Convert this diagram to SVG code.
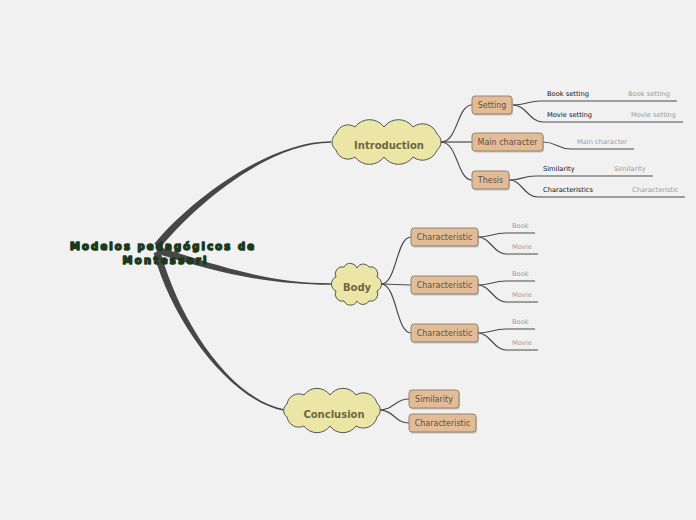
<svg xmlns="http://www.w3.org/2000/svg" width="696" height="520" viewBox="0 0 696 520">
<style>
.bg{fill:#f1f1f1}
.branch{fill:#474747}
.conn{fill:none;stroke:#4a4a4a;stroke-width:1.2}
.cloud{fill:#ebe6a6;stroke:#555;stroke-width:1}
.ctext{font-family:"DejaVu Sans",sans-serif;font-weight:bold;font-size:10px;fill:#6b6840;text-anchor:middle}
.box{fill:#e2bb97;stroke:#97826d;stroke-width:1}
.shadow{fill:#9a9a9a;opacity:0.55}
.btext{font-family:"DejaVu Sans",sans-serif;font-size:8px;fill:#64503e;text-anchor:middle}
.leaf{font-family:"DejaVu Sans",sans-serif;font-size:6.7px;fill:#111}
.note{font-family:"DejaVu Sans",sans-serif;font-size:6.7px;fill:#9a9a9a}
.title{font-family:"DejaVu Sans",sans-serif;font-weight:bold;font-size:10px;fill:#1b3a1e;stroke:#1b3a1e;stroke-width:1.5;stroke-linejoin:round;text-anchor:middle}
</style>
<rect class="bg" x="0" y="0" width="696" height="520"/>

<g id="connectors">
<path class="branch" d="M154.3,243.8 C192.3,197.8 270,141.3 331,141.3 L331,142.7 C270,142.7 197.7,202.2 159.7,248.2 Z"/>
<path class="branch" d="M158,246.7 C221,266.7 270,283.2 331,283.2 L331,284.8 C270,284.8 219,273.3 156,253.3 Z"/>
<path class="branch" d="M160.4,251.1 C178.4,319.1 230.15,399.2 284.15,409.2 L283.85,410.8 C229.85,400.8 171.6,320.9 153.6,252.9 Z"/>
<path class="conn" d="M441,142 C458,142 457,105 472,105"/>
<path class="conn" d="M441,142 L472,142"/>
<path class="conn" d="M441,142 C458,142 457,180 472,180"/>
<path class="conn" d="M381,284 C397,284 396,237 411,237"/>
<path class="conn" d="M381,284 L411,285"/>
<path class="conn" d="M381,284 C397,284 396,333 411,333"/>
<path class="conn" d="M378,410 C395,410 394,399 409,399"/>
<path class="conn" d="M378,410 C395,410 394,423 409,423"/>
<path class="conn" d="M513,105 C527,105 527,101 541,101 L677,101"/>
<path class="conn" d="M513,105 C527,105 529,122 543,122 L683,122"/>
<path class="conn" d="M543,142 C557,142 557,149 571,149 L634,149"/>
<path class="conn" d="M509,180 C522,180 522,176 536,176 L653,176"/>
<path class="conn" d="M509,180 C522,180 524,197 538,197 L685,197"/>
<path class="conn" d="M478,237 C492,237 492,233 506,233 L535,233"/>
<path class="conn" d="M478,237 C490,237 494,254 506,254 L538,254"/>
<path class="conn" d="M478,285 C492,285 492,281 506,281 L535,281"/>
<path class="conn" d="M478,285 C490,285 494,302 506,302 L538,302"/>
<path class="conn" d="M478,333 C492,333 492,329 506,329 L535,329"/>
<path class="conn" d="M478,333 C490,333 494,350 506,350 L538,350"/>
</g>

<g id="root">
<text class="title" x="162" y="249.5" textLength="184" lengthAdjust="spacing">Modelos pedagógicos de</text>
<text class="title" x="164.5" y="263.5" textLength="84" lengthAdjust="spacing">Montessori</text>
</g>

<g id="introduction">
<path class="cloud" d="M336,134 A12.5,12.5 0 0,1 355,127 A18,18 0 0,1 384,127 A18,18 0 0,1 413,127 A15.5,15.5 0 0,1 437,134 A10,10 0 0,1 437,150 A15.5,15.5 0 0,1 413,157 A18,18 0 0,1 384,157 A18,18 0 0,1 355,157 A12.5,12.5 0 0,1 336,150 A10,10 0 0,1 336,134 Z"/>
<text class="ctext" x="389" y="149">Introduction</text>
</g>

<g id="body">
<path class="cloud" d="M336,277 A7,7 0 0,1 344,267 A7.2,7.2 0 0,1 357,268 A7,7 0 0,1 369,267 A7,7 0 0,1 377,277 A7.7,7.7 0 0,1 377,291 A7,7 0 0,1 369,301 A7,7 0 0,1 357,301 A7.2,7.2 0 0,1 344,301 A7,7 0 0,1 336,291 A7.7,7.7 0 0,1 336,277 Z"/>
<text class="ctext" x="357" y="291">Body</text>
</g>

<g id="conclusion">
<path class="cloud" d="M287,404 A12,12 0 0,1 304,395 A16,16 0 0,1 330,395 A16,16 0 0,1 356,395 A14,14 0 0,1 377,403 A9,9 0 0,1 377,417 A14,14 0 0,1 356,426 A16,16 0 0,1 330,426 A16,16 0 0,1 304,426 A12,12 0 0,1 287,417 A8,8 0 0,1 287,404 Z"/>
<text class="ctext" x="334" y="418">Conclusion</text>
</g>

<g id="setting">
<rect class="shadow" x="473" y="97.5" width="40" height="18" rx="3"/>
<rect class="box" x="472" y="96" width="40" height="18" rx="3"/>
<text class="btext" x="492" y="108">Setting</text>
</g>
<g id="main-character">
<rect class="shadow" x="473" y="134.5" width="71" height="18" rx="3"/>
<rect class="box" x="472" y="133" width="71" height="18" rx="3"/>
<text class="btext" x="507.5" y="145">Main character</text>
</g>
<g id="thesis">
<rect class="shadow" x="473" y="172.5" width="37" height="18" rx="3"/>
<rect class="box" x="472" y="171" width="37" height="18" rx="3"/>
<text class="btext" x="490.5" y="183">Thesis</text>
</g>

<g id="body-characteristic-1">
<rect class="shadow" x="412" y="229.5" width="67" height="18" rx="3"/>
<rect class="box" x="411" y="228" width="67" height="18" rx="3"/>
<text class="btext" x="444.5" y="240">Characteristic</text>
</g>
<g id="body-characteristic-2">
<rect class="shadow" x="412" y="277.5" width="67" height="18" rx="3"/>
<rect class="box" x="411" y="276" width="67" height="18" rx="3"/>
<text class="btext" x="444.5" y="288">Characteristic</text>
</g>
<g id="body-characteristic-3">
<rect class="shadow" x="412" y="325.5" width="67" height="18" rx="3"/>
<rect class="box" x="411" y="324" width="67" height="18" rx="3"/>
<text class="btext" x="444.5" y="336">Characteristic</text>
</g>

<g id="conclusion-similarity">
<rect class="shadow" x="410" y="391.5" width="50" height="18" rx="3"/>
<rect class="box" x="409" y="390" width="50" height="18" rx="3"/>
<text class="btext" x="434" y="402">Similarity</text>
</g>
<g id="conclusion-characteristic">
<rect class="shadow" x="410" y="415.5" width="67" height="18" rx="3"/>
<rect class="box" x="409" y="414" width="67" height="18" rx="3"/>
<text class="btext" x="442.5" y="426">Characteristic</text>
</g>

<g id="leaf-book-setting">
<text class="leaf" x="547" y="96">Book setting</text>
<text class="note" x="628" y="96">Book setting</text>
</g>
<g id="leaf-movie-setting">
<text class="leaf" x="547" y="117">Movie setting</text>
<text class="note" x="631" y="117">Movie setting</text>
</g>
<g id="leaf-main-character">
<text class="note" x="577" y="144">Main character</text>
</g>
<g id="leaf-similarity">
<text class="leaf" x="543" y="171">Similarity</text>
<text class="note" x="614" y="171">Similarity</text>
</g>
<g id="leaf-characteristics">
<text class="leaf" x="543" y="192">Characteristics</text>
<text class="note" x="632" y="192">Characteristic</text>
</g>

<g id="leaf-book-1"><text class="note" x="512" y="228">Book</text></g>
<g id="leaf-movie-1"><text class="note" x="512" y="249">Movie</text></g>
<g id="leaf-book-2"><text class="note" x="512" y="276">Book</text></g>
<g id="leaf-movie-2"><text class="note" x="512" y="297">Movie</text></g>
<g id="leaf-book-3"><text class="note" x="512" y="324">Book</text></g>
<g id="leaf-movie-3"><text class="note" x="512" y="345">Movie</text></g>
</svg>
